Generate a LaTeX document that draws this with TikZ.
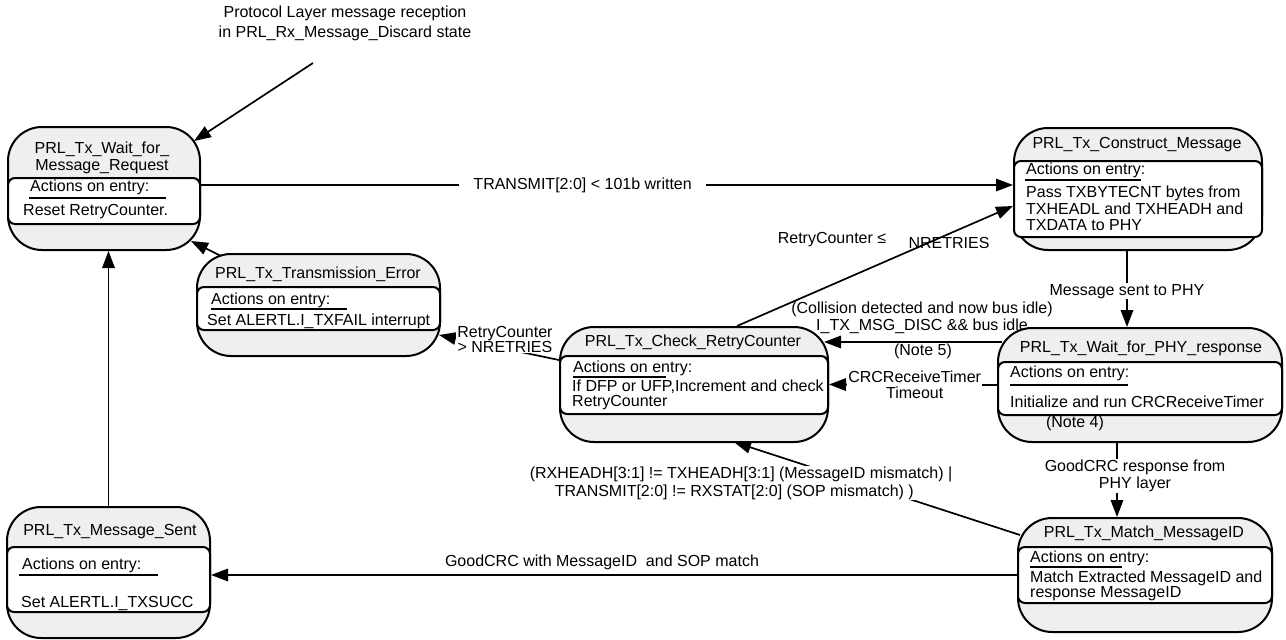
\documentclass[tikz,border=0pt]{standalone}
\usepackage{fontspec}
\setmainfont{Liberation Sans}
\usetikzlibrary{arrows.meta,calc}
\definecolor{stfill}{RGB}{239,239,239}
\newcommand{\diafont}{\fontsize{16}{16.5}\selectfont}
\begin{document}
\begin{tikzpicture}[x=1pt,y=-1pt,
  state/.style={draw, line width=2pt, fill=stfill, rounded corners=34pt, inner sep=0pt},
  inbox/.style={draw, line width=2pt, fill=white, rounded corners=7pt, inner sep=0pt},
  txt/.style={inner sep=0pt, font=\diafont, anchor=west, align=left},
  ttl/.style={inner sep=0pt, font=\diafont, align=center},
  lbl/.style={inner sep=1pt, font=\diafont, align=center},
  ul/.style={line width=1.5pt},
  arr/.style={line width=1.7pt, -{Triangle[length=17pt,width=12.5pt]}},
]
\useasboundingbox (0,0) rectangle (1286,640);

% ---------- PRL_Tx_Wait_for_Message_Request
\node[state, minimum width=192pt, minimum height=123pt] (wm) at (104,188.5) {};
\node[inbox, minimum width=192pt, minimum height=46pt] (wmin) at (104,201) {};
\node[ttl] (wmt) at (102,158) {PRL\_Tx\_Wait\_for\_\\Message\_Request};
\node[txt] (wma) at (30,187) {Actions on entry:};
\draw[ul] (29,198) -- (166,198);
\node[txt] (wmb) at (23,212) {Reset RetryCounter.};

% ---------- PRL_Tx_Construct_Message
\node[state, minimum width=248pt, minimum height=122pt] (cm) at (1138,189) {};
\node[inbox, minimum width=248pt, minimum height=76pt] (cmin) at (1138,199) {};
\node[ttl] (cmt) at (1137,145) {PRL\_Tx\_Construct\_Message};
\node[txt] (cma) at (1026,170) {Actions on entry:};
\draw[ul] (1025,180) -- (1141,180);
\node[txt] (cmb) at (1026,208.5) {Pass TXBYTECNT bytes from\\TXHEADL and TXHEADH and\\TXDATA to PHY};

% ---------- PRL_Tx_Transmission_Error
\node[state, minimum width=243pt, minimum height=102pt] (te) at (318.5,305) {};
\node[inbox, minimum width=243pt, minimum height=43pt] (tein) at (318.5,308.5) {};
\node[ttl] (tet) at (318,274) {PRL\_Tx\_Transmission\_Error};
\node[txt] (tea) at (211,300) {Actions on entry:};
\draw[ul] (211,309) -- (347,309);
\node[txt] (teb) at (207,321) {Set ALERTL.I\_TXFAIL interrupt};

% ---------- PRL_Tx_Check_RetryCounter
\node[state, minimum width=268pt, minimum height=115pt] (cr) at (694,384.5) {};
\node[inbox, minimum width=268pt, minimum height=58pt] (crin) at (694,385) {};
\node[ttl] (crt) at (693,342) {PRL\_Tx\_Check\_RetryCounter};
\node[txt] (cra) at (573,368) {Actions on entry:};
\draw[ul] (573,377) -- (666,377);
\node[txt, font=\fontsize{16}{14.5}\selectfont] (crb) at (572,395) {If DFP or UFP,Increment and check\\RetryCounter};

% ---------- PRL_Tx_Wait_for_PHY_response
\node[state, minimum width=284pt, minimum height=114pt] (wp) at (1140,385) {};
\node[inbox, minimum width=284pt, minimum height=53pt] (wpin) at (1140,388.5) {};
\node[ttl] (wpt) at (1141,348) {PRL\_Tx\_Wait\_for\_PHY\_response};
\node[txt] (wpa) at (1010,373) {Actions on entry:};
\draw[ul] (1010,385) -- (1128,385);
\node[txt] (wpb) at (1010,402) {Initialize and run CRCReceiveTimer};
\node[ttl] (wpn) at (1075,423) {(Note 4)};

% ---------- PRL_Tx_Match_MessageID
\node[state, minimum width=254pt, minimum height=114pt] (mm) at (1145,575) {};
\node[inbox, minimum width=254pt, minimum height=56pt] (mmin) at (1145,575) {};
\node[ttl] (mmt) at (1144,533) {PRL\_Tx\_Match\_MessageID};
\node[txt] (mma) at (1030,558) {Actions on entry:};
\draw[ul] (1030,567) -- (1122,567);
\node[txt, font=\fontsize{16}{15}\selectfont] (mmb) at (1030,585.5) {Match Extracted MessageID and\\response MessageID};

% ---------- PRL_Tx_Message_Sent
\node[state, minimum width=203pt, minimum height=131pt] (ms) at (108.5,572.5) {};
\node[inbox, minimum width=203pt, minimum height=65pt] (msin) at (108.5,579.5) {};
\node[ttl] (mst) at (110,532) {PRL\_Tx\_Message\_Sent};
\node[txt] (msa) at (22,565) {Actions on entry:};
\draw[ul] (19,575) -- (158,575);
\node[txt] (msb) at (21,603) {Set ALERTL.I\_TXSUCC};

% ---------- connectors
\coordinate (src) at (313,63);
\node[lbl] (srclbl) at (345,23) {Protocol Layer message reception\\[3.5pt]in PRL\_Rx\_Message\_Discard state};
\draw[arr] (src) -- ($(wm.north east)+(-7,15)$);

\draw[arr] ($(wm.east)+(0,-3.5)$) -- node[lbl, fill=white, inner xsep=14pt, pos=0.47] (tlbl) {TRANSMIT[2:0] < 101b written} ($(cm.west)+(0,-4)$);

\draw[arr] ($(cm.south)+(-11,0)$) -- node[lbl, fill=white, pos=0.53] (mslbl) {Message sent to PHY} ($(wp.north)+(-13,0)$);

\draw[arr] ($(wp.west)+(5,-43)$) -- ($(cr.east)+(-5,-42.5)$);
\node[lbl] (colllbl) at (922,318) {(Collision detected and now bus idle)\\I\_TX\_MSG\_DISC \&\& bus idle};
\node[lbl] (n5lbl) at (923,351) {(Note 5)};

\draw[arr] (wp.west) -- node[lbl, fill=white, pos=0.49] (crclbl) {CRCReceiveTimer\\Timeout} (cr.east);

\draw[arr] ($(cr.north)+(43,0)$) -- ($(cm.west)+(0,17)$);
\node[lbl] (rlelbl) at (832,240) {RetryCounter ≤};
\node[lbl] (nrlbl) at (949,243) {NRETRIES};

\draw[arr] ($(cr.west)+(0,-24.5)$) -- ($(te.east)+(-2,30)$);
\node[lbl, fill=white, font=\fontsize{16}{15}\selectfont] (rgtlbl) at (505,339) {RetryCounter\\> NRETRIES};

\draw[arr] ($(te.north west)+(25,3)$) -- ($(wm.south east)+(-10,-10)$);

\draw[arr] ($(mm.west)+(3,-40)$) -- ($(cr.south)+(40,-1)$);
\node[lbl, fill=white, align=left, font=\fontsize{16}{18}\selectfont] (mislbl) at (741,483) {(RXHEADH[3:1] != TXHEADH[3:1] (MessageID mismatch) |\\\hspace*{25pt}TRANSMIT[2:0] != RXSTAT[2:0] (SOP mismatch) )};

\draw[arr] ($(wp.south)+(-23,0)$) -- ($(mm.north)+(-28,0)$);
\node[lbl, fill=white] (gclbl) at (1135,476) {GoodCRC response from\\PHY layer};

\draw[arr] (mm.west) -- ($(ms.east)+(0,2.5)$);
\node[lbl] (oklbl) at (602,562) {GoodCRC with MessageID\ \ and SOP match};

\draw[arr] (ms.north) -- (ms.north |- wm.south);
\end{tikzpicture}
\end{document}
